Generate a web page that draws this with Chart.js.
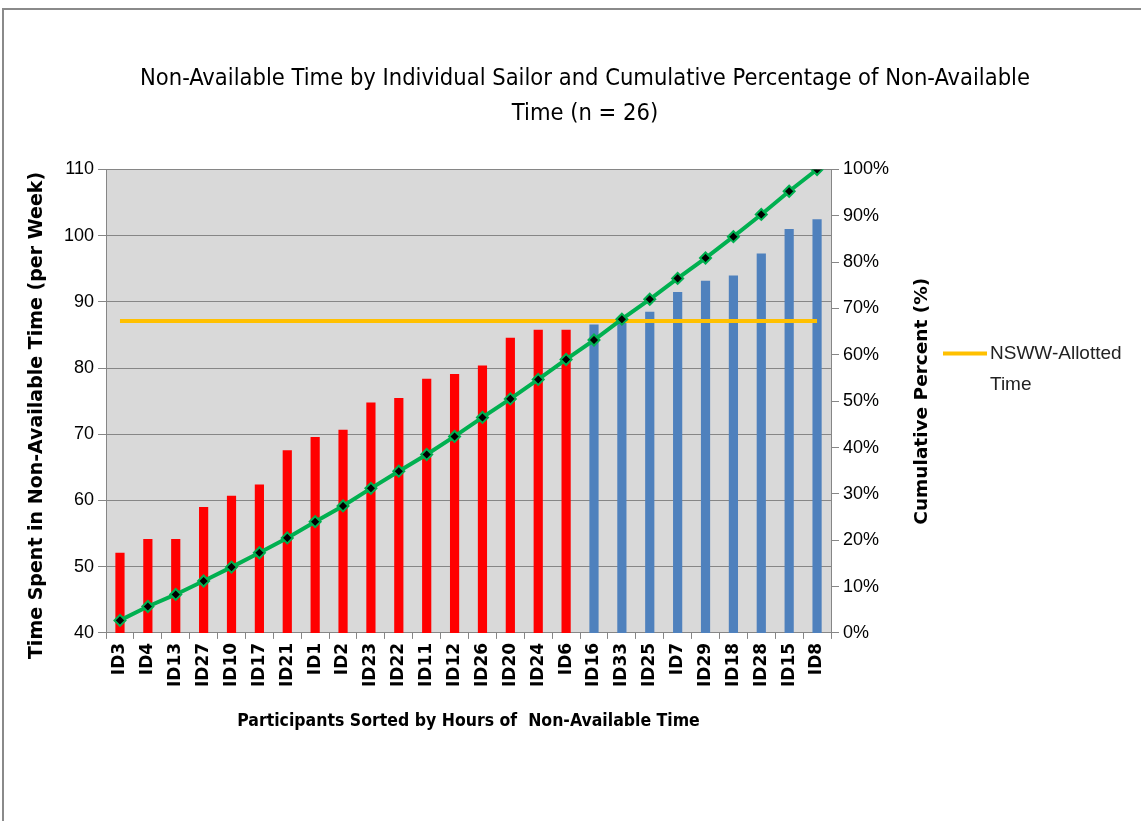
<!DOCTYPE html>
<html>
<head>
<meta charset="utf-8">
<script src="https://cdn.jsdelivr.net/npm/chart.js@4.4.1/dist/chart.umd.min.js"></script>
<style>
  body { margin: 0; background: #fff; }
  #frame { position: absolute; left: 2px; top: 8px; width: 1200px; height: 900px;
           border-top: 2px solid #8a8a8a; border-left: 2px solid #8a8a8a; }
  #wrap { position: absolute; left: 0; top: 0; width: 1141px; height: 821px; }
</style>
</head>
<body>
<div id="frame"></div>
<div id="wrap"><canvas id="chart"></canvas></div>
<script>
const participants = ['ID3', 'ID4', 'ID13', 'ID27', 'ID10', 'ID17', 'ID21', 'ID1', 'ID2', 'ID23',
  'ID22', 'ID11', 'ID12', 'ID26', 'ID20', 'ID24', 'ID6', 'ID16', 'ID33', 'ID25',
  'ID7', 'ID29', 'ID18', 'ID28', 'ID15', 'ID8'];

// hours of non-available time per week
const hours = [52.1, 54.2, 54.2, 59.0, 60.7, 62.4, 67.6, 69.6, 70.7, 74.8,
  75.5, 78.4, 79.1, 80.4, 84.6, 85.8, 85.8, 86.6, 87.4, 88.5,
  91.5, 93.2, 94.0, 97.3, 101.0, 102.5];

// cumulative percent (right axis)
const cumulative = [2.7, 5.7, 8.3, 11.2, 14.2, 17.3, 20.5, 24.0, 27.4, 31.2,
  34.9, 38.5, 42.4, 46.5, 50.5, 54.7, 59.0, 63.2, 67.7, 72.0,
  76.5, 80.9, 85.5, 90.3, 95.3, 100];

const allotted = participants.map(() => 87.1);
const underAllotted = 17; // first 17 bars are red

const leftTicks = [40, 50, 60, 70, 80, 90, 100, 110];
const rightTicks = [0, 10, 20, 30, 40, 50, 60, 70, 80, 90, 100];

const barColors = hours.map((h, i) => i < underAllotted ? '#ff0000' : '#4f81bd');

Chart.defaults.font.family = "'Liberation Sans', Arial, sans-serif";
Chart.defaults.color = '#000';

const plotBg = {
  id: 'plotBg',
  beforeDraw(chart) {
    const a = chart.chartArea;
    const ctx = chart.ctx;
    ctx.save();
    ctx.fillStyle = '#d9d9d9';
    ctx.fillRect(a.left, a.top, a.right - a.left, a.bottom - a.top);
    ctx.restore();
  }
};

// both axis titles read bottom to top, plus the single legend entry
const extras = {
  id: 'extras',
  afterDraw(chart) {
    const a = chart.chartArea;
    const ctx = chart.ctx;
    ctx.save();
    ctx.translate(37, a.top + 246);
    ctx.rotate(-Math.PI / 2);
    ctx.font = "bold 19px 'DejaVu Sans', sans-serif";
    ctx.fillStyle = '#000';
    ctx.textAlign = 'center';
    ctx.textBaseline = 'middle';
    ctx.fillText('Time Spent in Non-Available Time (per Week)', 0, 0);
    ctx.restore();

    ctx.save();
    ctx.translate(a.right + 91, (a.top + a.bottom) / 2);
    ctx.rotate(-Math.PI / 2);
    ctx.font = "bold 18.5px 'DejaVu Sans', sans-serif";
    ctx.fillStyle = '#000';
    ctx.textAlign = 'center';
    ctx.textBaseline = 'middle';
    ctx.fillText('Cumulative Percent (%)', 0, 0);
    ctx.restore();

    ctx.save();
    const ly = a.top + 184;
    ctx.strokeStyle = '#ffc000';
    ctx.lineWidth = 4;
    ctx.beginPath();
    ctx.moveTo(a.right + 112, ly);
    ctx.lineTo(a.right + 156, ly);
    ctx.stroke();
    ctx.font = "19px 'Liberation Sans', sans-serif";
    ctx.fillStyle = '#222';
    ctx.textBaseline = 'middle';
    ctx.fillText('NSWW-Allotted', a.right + 159, ly);
    ctx.fillText('Time', a.right + 159, ly + 31);
    ctx.restore();
  }
};

new Chart(document.getElementById('chart'), {
  data: {
    labels: participants,
    datasets: [
      {
        type: 'line',
        label: 'Cumulative Percent',
        data: cumulative,
        yAxisID: 'y1',
        borderColor: '#00b050',
        borderWidth: 4,
        pointStyle: 'rectRot',
        pointRadius: 5.5,
        pointBackgroundColor: '#000',
        pointBorderColor: '#00b050',
        pointBorderWidth: 2,
        tension: 0,
        order: 0
      },
      {
        type: 'line',
        label: 'NSWW-Allotted Time',
        data: allotted,
        yAxisID: 'y',
        borderColor: '#ffc000',
        borderWidth: 4,
        pointRadius: 0,
        order: 1
      },
      {
        type: 'bar',
        label: 'Hours',
        data: hours,
        yAxisID: 'y',
        backgroundColor: barColors,
        categoryPercentage: 1,
        barPercentage: 0.33,
        order: 2
      }
    ]
  },
  options: {
    responsive: true,
    maintainAspectRatio: false,
    animation: false,
    layout: { padding: { left: 60, right: 31, top: 0, bottom: 85 } },
    plugins: {
      legend: { display: false },
      tooltip: { enabled: false },
      title: {
        display: true,
        text: ['Non-Available Time by Individual Sailor and Cumulative Percentage of Non-Available', 'Time (n = 26)'],
        font: { family: "'Liberation Sans Narrow', 'DejaVu Sans Condensed', sans-serif", size: 23.5, weight: 'normal', lineHeight: 1.5 },
        color: '#000',
        padding: { top: 61, bottom: 38 }
      }
    },
    scales: {
      x: {
        grid: { display: true, drawOnChartArea: false, offset: true, color: '#868686', tickLength: 6 },
        border: { color: '#868686' },
        ticks: {
          minRotation: 90, maxRotation: 90, autoSkip: false, padding: 4,
          font: { family: "'DejaVu Sans', sans-serif", size: 17, weight: 'bold' }
        },
        title: {
          display: true,
          text: 'Participants Sorted by Hours of  Non-Available Time',
          font: { family: "'Liberation Sans Narrow', 'DejaVu Sans Condensed', sans-serif", size: 17.5, weight: 'bold' },
          padding: { top: 20 }
        }
      },
      y: {
        position: 'left',
        min: 40, max: 110,
        afterBuildTicks: s => { s.ticks = leftTicks.map(v => ({ value: v })); },
        grid: { color: '#868686', tickLength: 8 },
        border: { color: '#868686' },
        ticks: { font: { size: 18 }, padding: 4 }
      },
      y1: {
        position: 'right',
        min: 0, max: 100,
        afterBuildTicks: s => { s.ticks = rightTicks.map(v => ({ value: v })); },
        afterFit: s => { s.width = 279; },
        grid: { drawOnChartArea: false, color: '#868686', tickLength: 8 },
        border: { color: '#868686' },
        ticks: { font: { size: 18 }, padding: 4, callback: v => v + '%' }
      }
    }
  },
  plugins: [plotBg, extras]
});
</script>
</body>
</html>
